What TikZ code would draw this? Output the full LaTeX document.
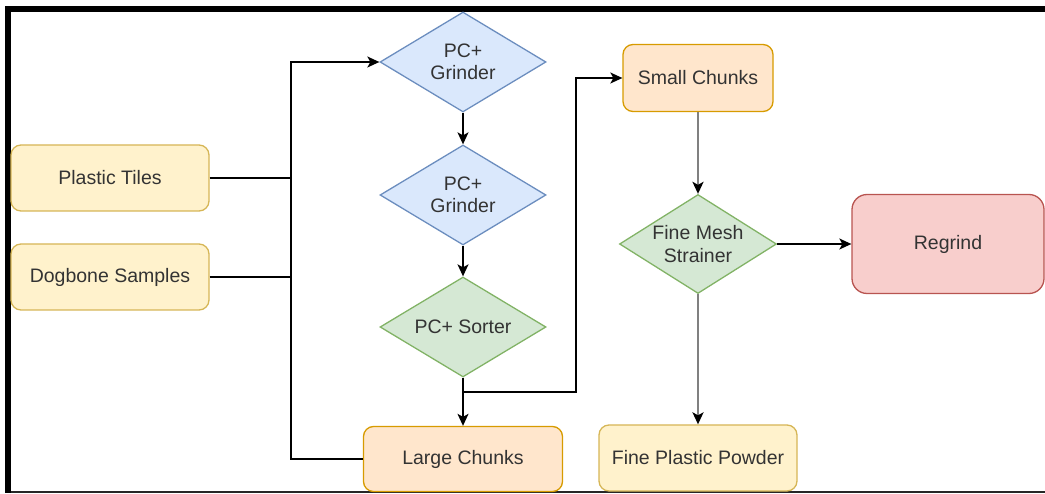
\documentclass[tikz,border=0pt]{standalone}
\usepackage{fontspec}
\setmainfont{Liberation Sans}
\usetikzlibrary{shapes.geometric,arrows.meta}
\definecolor{yfill}{HTML}{FFF2CC}\definecolor{ydraw}{HTML}{D6B656}
\definecolor{ofill}{HTML}{FFE6CC}\definecolor{odraw}{HTML}{D79B00}
\definecolor{bfill}{HTML}{DAE8FC}\definecolor{bdraw}{HTML}{6C8EBF}
\definecolor{gfill}{HTML}{D5E8D4}\definecolor{gdraw}{HTML}{82B366}
\definecolor{rfill}{HTML}{F8CECC}\definecolor{rdraw}{HTML}{B85450}
\definecolor{txt}{HTML}{333333}
\definecolor{gline}{HTML}{808080}
\begin{document}
\begin{tikzpicture}[x=1pt,y=-1pt,
  base/.style={line width=1.3pt, text=txt, font=\fontsize{19.5}{22.5}\selectfont, align=center, inner sep=0pt},
  box/.style={base, rectangle, rounded corners=10pt},
  yellowbox/.style={box, fill=yfill, draw=ydraw},
  orangebox/.style={box, fill=ofill, draw=odraw},
  redbox/.style={box, fill=rfill, draw=rdraw, rounded corners=15pt},
  dia/.style={base, diamond, shape aspect=1.66, minimum width=166pt, minimum height=100pt},
  bluedia/.style={dia, fill=bfill, draw=bdraw},
  greendia/.style={dia, fill=gfill, draw=gdraw},
  conn/.style={line width=1.4pt, draw=black},
  arr/.style={conn, -{Stealth[length=12pt,width=11pt,inset=3pt]}},
  grayarr/.style={line width=2.6pt, draw=gline, -{Stealth[length=12pt,width=11pt,inset=3pt,color=black]}}
]
\useasboundingbox (0,0) rectangle (1045,494);
% frame
\fill[black] (5,6) rectangle (1045,12);
\fill[black] (5,6) rectangle (11,493);
\draw[line width=1.5pt, black!85] (11,492) -- (1045,492);

% nodes
\node[yellowbox, minimum width=198pt, minimum height=66pt] (tiles) at (110,178) {Plastic Tiles};
\node[yellowbox, minimum width=198pt, minimum height=66pt] (dog) at (110,277) {Dogbone Samples};
\node[bluedia] (g1) at (463,62) {PC+\\Grinder};
\node[bluedia] (g2) at (463,195) {PC+\\Grinder};
\node[greendia] (sort) at (463,327) {PC+ Sorter};
\node[orangebox, minimum width=199pt, minimum height=65pt] (large) at (463,459) {Large Chunks};
\node[orangebox, minimum width=150pt, minimum height=67pt] (small) at (698,78) {Small Chunks};
\node[greendia, shape aspect=1.586, minimum width=157pt, minimum height=99pt] (fine) at (698,244) {Fine Mesh\\Strainer};
\node[redbox, minimum width=192pt, minimum height=99pt] (regrind) at (948,244) {Regrind};
\node[yellowbox, minimum width=198pt, minimum height=66pt] (powder) at (698,458) {Fine Plastic Powder};

% connectors
\coordinate (j) at (291,62);
\coordinate (bend) at (576,392);
\draw[arr] (large.west) -| (j) -- (g1.west);
\draw[conn] (tiles.east) -- (tiles.east -| j);
\draw[conn] (dog.east) -- (dog.east -| j);
\draw[arr] (g1.south) -- (g2.north);
\draw[arr] (g2.south) -- (sort.north);
\draw[arr] (sort.south) -- (large.north);
\draw[arr] (sort.south) |- (bend) |- (small.west);
\draw[grayarr] (small.south) -- (fine.north);
\draw[arr] (fine.east) -- (regrind.west);
\draw[grayarr] (fine.south) -- (powder.north);
\end{tikzpicture}
\end{document}
